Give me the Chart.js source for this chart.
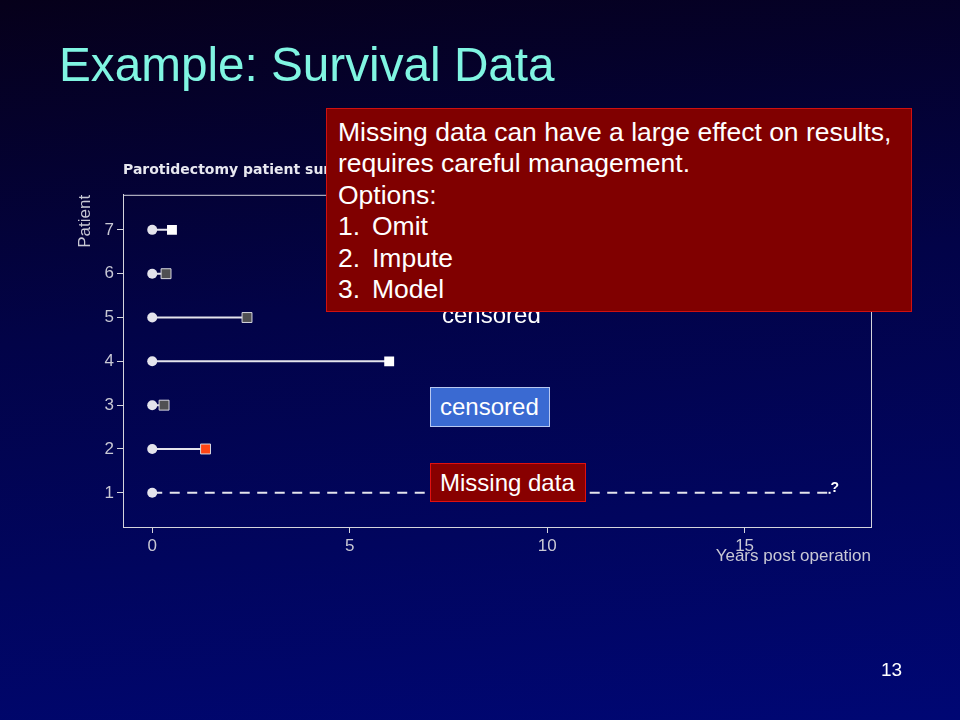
<!DOCTYPE html>
<html>
<head>
<meta charset="utf-8">
<script src="https://cdn.jsdelivr.net/npm/chart.js@4.4.0/dist/chart.umd.min.js"></script>
<style>
  html, body { margin: 0; padding: 0; }
  body {
    width: 960px; height: 720px; overflow: hidden; position: relative;
    background: linear-gradient(174deg, #06001a 0%, #020348 42%, #000774 100%);
    font-family: 'Liberation Sans', Arial, sans-serif;
  }
  #wrap { position: absolute; left: 0; top: 0; width: 960px; height: 720px; }
  .slide-title { position: absolute; left: 59px; top: 37px; font-size: 47.7px; color: #80f5e2; white-space: nowrap; }
  .page { position: absolute; left: 881px; top: 659px; font-size: 19px; color: #ffffff; }
  .note { position: absolute; color: #ffffff; font-size: 24px; white-space: nowrap; }
  .box { position: absolute; box-sizing: border-box; color: #ffffff; white-space: nowrap; }
  #bigBox { left: 326px; top: 108px; width: 586px; height: 204px; background: #800000; border: 1.5px solid #d01010;
            font-size: 26.5px; line-height: 31.4px; padding: 8px 0 0 11px; }
  #bigBox .num { display: inline-block; width: 34px; }
  #censBox { left: 430px; top: 387px; width: 120px; height: 40px; background: #3a6ad2; border: 1px solid #b8c8f0;
             font-size: 24px; line-height: 38px; padding-left: 9px; }
  #missBox { left: 430px; top: 463px; width: 156px; height: 39px; background: #880000; border: 1px solid #e01010;
             font-size: 24px; line-height: 37px; padding-left: 9px; }
</style>
</head>
<body>
<div id="wrap"><canvas id="chart" width="960" height="720"></canvas></div>
<div class="slide-title">Example: Survival Data</div>
<div class="note" style="left:442px; top:301px;">censored</div>
<div class="box" id="censBox">censored</div>
<div class="box" id="missBox">Missing data</div>
<div class="box" id="bigBox">
  Missing data can have a large effect on results,<br>
  requires careful management.<br>
  Options:<br>
  <span class="num">1.</span>Omit<br>
  <span class="num">2.</span>Impute<br>
  <span class="num">3.</span>Model
</div>
<div class="page">13</div>
<script>
const patients = [1, 2, 3, 4, 5, 6, 7];
const startTimes = [0, 0, 0, 0, 0, 0, 0];
const endTimes = [17.1, 1.35, 0.3, 6.0, 2.4, 0.35, 0.5];
const endStatus = ['missing', 'flagged', 'censored', 'died', 'censored', 'censored', 'died'];
const xTicks = [0, 5, 10, 15];
const yTicks = [1, 2, 3, 4, 5, 6, 7];

const lineColor = '#e4e4ec';
const axisColor = '#d4d4dc';
const labelColor = '#c8c8d4';
const statusColor = { died: '#ffffff', censored: '#505052', flagged: '#ff4414', missing: lineColor };
const axisFont = { family: '"Liberation Sans", Arial', size: 17 };

const datasets = patients.map((p, i) => {
  const missing = endStatus[i] == 'missing';
  return {
    data: [{ x: startTimes[i], y: p }, { x: endTimes[i], y: p }],
    showLine: true,
    borderColor: lineColor,
    borderWidth: 2,
    borderDash: missing ? [10, 7.5] : [],
    pointStyle: ['circle', missing ? 'circle' : 'rect'],
    pointRadius: [5, missing ? 0 : 7],
    pointBackgroundColor: [lineColor, statusColor[endStatus[i]]],
    pointBorderColor: [lineColor, '#d8d8e0'],
    pointBorderWidth: [0, endStatus[i] == 'died' ? 0 : 1],
  };
});

// frame round the plot area and the "?" after the missing follow-up
const frame = {
  id: 'frame',
  afterDatasetsDraw(chart) {
    const { ctx, chartArea: a, scales } = chart;
    ctx.save();
    ctx.strokeStyle = axisColor;
    ctx.lineWidth = 1;
    ctx.strokeRect(a.left + 0.5, a.top + 0.5, a.right - a.left, a.bottom - a.top);
    endStatus.forEach((s, i) => {
      if (s != 'missing') return;
      const x = scales.x.getPixelForValue(endTimes[i]);
      const y = scales.y.getPixelForValue(patients[i]);
      ctx.fillStyle = '#ffffff';
      ctx.fillRect(x + 1, y - 1, 2, 2);
      ctx.font = 'bold 14px "Liberation Sans", Arial';
      ctx.textBaseline = 'bottom';
      ctx.fillText('?', x + 3, y + 2);
    });
    ctx.restore();
  },
};

new Chart(document.getElementById('chart'), {
  type: 'scatter',
  data: { datasets },
  options: {
    responsive: false,
    animation: false,
    events: [],
    layout: { padding: { left: 71, right: 89, top: 162, bottom: 153 } },
    plugins: {
      legend: { display: false },
      tooltip: { enabled: false },
      title: {
        display: true,
        text: 'Parotidectomy patient survival',
        align: 'start',
        fullSize: false,
        color: '#e8e8f0',
        font: { family: '"DejaVu Sans", sans-serif', size: 14, weight: 'bold' },
        padding: { top: 0, bottom: 16 },
      },
    },
    scales: {
      x: {
        type: 'linear',
        min: -0.74,
        max: 18.2,
        afterBuildTicks: (scale) => { scale.ticks = xTicks.map((v) => ({ value: v })); },
        afterFit: (scale) => { scale.height = 40; },
        grid: { drawOnChartArea: false, drawTicks: true, tickLength: 6, color: axisColor },
        border: { display: true, color: axisColor },
        ticks: { color: labelColor, padding: 3, font: axisFont },
        title: {
          display: true, text: 'Years post operation', align: 'end', color: labelColor,
          font: axisFont, padding: { top: 0, bottom: 0 },
        },
      },
      y: {
        type: 'linear',
        min: 0.22,
        max: 7.8,
        afterBuildTicks: (scale) => { scale.ticks = yTicks.map((v) => ({ value: v })); },
        afterFit: (scale) => { scale.width = 52; },
        grid: { drawOnChartArea: false, drawTicks: true, tickLength: 6, color: axisColor },
        border: { display: true, color: axisColor },
        ticks: { color: labelColor, padding: 3, font: axisFont },
        title: {
          display: true, text: 'Patient', align: 'end', color: labelColor,
          font: axisFont, padding: { top: 4, bottom: 4 },
        },
      },
    },
  },
  plugins: [frame],
});
</script>
</body>
</html>
